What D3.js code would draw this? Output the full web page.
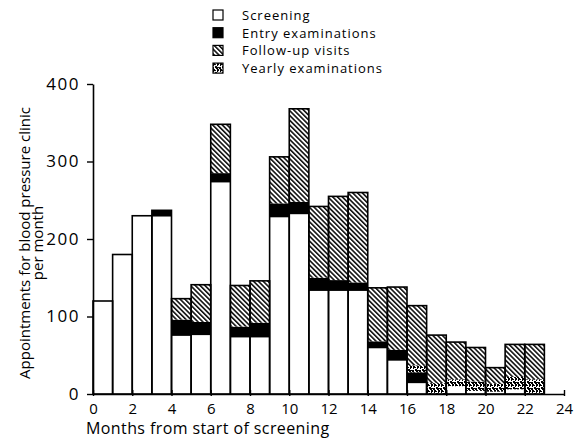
<!DOCTYPE html>
<html>
<head>
<meta charset="utf-8">
<script src="https://cdn.jsdelivr.net/npm/d3@7"></script>
<style>
  html, body { margin: 0; padding: 0; background: #fff; }
  svg { display: block; font-family: "Open Sans", Lato, sans-serif; }
</style>
</head>
<body>
<svg id="chart" width="580" height="439"></svg>
<script>
// Monthly appointments at the blood pressure clinic, by type
const months = d3.range(0, 23);
const screening = [120, 180, 230, 229, 75, 76, 273, 73, 73, 228, 232, 133, 133, 133, 59, 43, 14, 0, 10, 4, 3, 6, 0];
const entry     = [0, 0, 0, 8, 21, 17, 12, 14, 19, 18, 16, 17, 14, 11, 9, 14, 14, 0, 0, 0, 0, 0, 0];
const yearly    = [0, 0, 0, 0, 0, 0, 0, 0, 0, 0, 0, 0, 0, 0, 0, 0, 9, 14, 9, 12, 10, 16, 19];
const followup  = [0, 0, 0, 0, 27, 48, 63, 53, 54, 60, 120, 92, 108, 116, 69, 81, 77, 62, 48, 44, 21, 42, 45];

const seriesKeys = ["screening", "entry", "yearly", "followup"];
const legendKeys = ["screening", "entry", "followup", "yearly"];
const seriesNames = {
  screening: "Screening",
  entry: "Entry examinations",
  followup: "Follow-up visits",
  yearly: "Yearly examinations"
};
const xTicks = d3.range(0, 25, 2);
const yTicks = [0, 100, 200, 300, 400];

const rows = months.map((m, i) => ({
  month: m,
  screening: screening[i],
  entry: entry[i],
  yearly: yearly[i],
  followup: followup[i]
}));

const svg = d3.select("#chart");
const x = d3.scaleLinear().domain([0, 24]).range([93, 564]);
const y = d3.scaleLinear().domain([0, 400]).range([394, 84]);

// Fill patterns: diagonal hatch and mottled stipple
const defs = svg.append("defs");
const hatch = defs.append("pattern")
  .attr("id", "hatch")
  .attr("patternUnits", "userSpaceOnUse")
  .attr("width", 3.4).attr("height", 3.4)
  .attr("patternTransform", "rotate(-45)");
hatch.append("rect").attr("width", 3.4).attr("height", 3.4).attr("fill", "#fff");
hatch.append("line")
  .attr("x1", 0.8).attr("y1", 0).attr("x2", 0.8).attr("y2", 3.4)
  .attr("stroke", "#000").attr("stroke-width", 1.5);

const stipple = defs.append("pattern")
  .attr("id", "stipple")
  .attr("patternUnits", "userSpaceOnUse")
  .attr("width", 7).attr("height", 6);
stipple.append("rect").attr("width", 7).attr("height", 6).attr("fill", "#fff");
stipple.append("path")
  .attr("d", "M0,0h2v1h1v1h-2v1h-1z M4,0h2v2h-1v1h-1z M2,3h2v1h1v2h-2v-1h-1z M5,4h2v2h-1v-1h-1z M0,4h1v2h-1z")
  .attr("fill", "#000");

const fills = {
  screening: "#fff",
  entry: "#000",
  followup: "url(#hatch)",
  yearly: "url(#stipple)"
};

const stacked = d3.stack().keys(seriesKeys)(rows);

svg.append("g").selectAll("g")
  .data(stacked)
  .join("g")
  .attr("fill", d => fills[d.key])
  .selectAll("rect")
  .data(d => d.filter(s => s[1] - s[0] > 0))
  .join("rect")
  .attr("x", d => x(d.data.month))
  .attr("width", d => x(d.data.month + 1) - x(d.data.month))
  .attr("y", d => y(d[1]))
  .attr("height", d => y(d[0]) - y(d[1]));

// Bar outlines around the full stacks
const total = d => d.screening + d.entry + d.yearly + d.followup;
svg.append("g").selectAll("rect")
  .data(rows)
  .join("rect")
  .attr("x", d => x(d.month))
  .attr("width", d => x(d.month + 1) - x(d.month))
  .attr("y", d => y(total(d)))
  .attr("height", d => y(0) - y(total(d)))
  .attr("fill", "none")
  .attr("stroke", "#000")
  .attr("stroke-width", 1.6);

// Axes
const yAxis = svg.append("g")
  .attr("transform", `translate(${x(0)},0)`)
  .call(d3.axisLeft(y).tickValues(yTicks).tickSize(6).tickPadding(7).tickSizeOuter(0));
const xAxis = svg.append("g")
  .attr("transform", `translate(0,${y(0)})`)
  .call(d3.axisBottom(x).tickValues(xTicks).tickSize(-4).tickPadding(9).tickSizeOuter(0));

[yAxis, xAxis].forEach(g => {
  g.select(".domain").attr("stroke", "#000").attr("stroke-width", 1.6);
  g.selectAll(".tick line").attr("stroke", "#000").attr("stroke-width", 1.4);
  g.selectAll(".tick text")
    .attr("fill", "#000")
    .style("font-family", "'Open Sans', Lato, sans-serif");
});
// x ticks cross the axis line slightly
xAxis.selectAll(".tick line").attr("y1", 2).attr("y2", -4);
xAxis.selectAll(".tick text").style("font-size", "15px");
yAxis.selectAll(".tick text").style("font-size", "17px").style("letter-spacing", "1.5px");

// Axis titles
svg.append("text")
  .attr("x", 86).attr("y", 434)
  .attr("font-size", 16)
  .style("letter-spacing", "0.4px")
  .text("Months from start of screening");

const yTitle = svg.append("text")
  .attr("transform", "translate(30,243) rotate(-90)")
  .attr("text-anchor", "middle")
  .attr("font-size", 15);
yTitle.append("tspan").attr("x", 0).attr("y", 0).text("Appointments for blood pressure clinic");
yTitle.append("tspan").attr("x", 0).attr("y", 13).text("per month");

// Legend
const legend = svg.append("g").selectAll("g")
  .data(legendKeys)
  .join("g")
  .attr("transform", (d, i) => `translate(213,${10 + i * 17.7})`);
legend.append("rect")
  .attr("width", 10).attr("height", 10)
  .attr("fill", d => fills[d])
  .attr("stroke", "#000").attr("stroke-width", 1.2);
legend.append("text")
  .attr("x", 29).attr("y", 10)
  .attr("font-size", 13)
  .style("letter-spacing", "1px")
  .text(d => seriesNames[d]);
</script>
</body>
</html>
